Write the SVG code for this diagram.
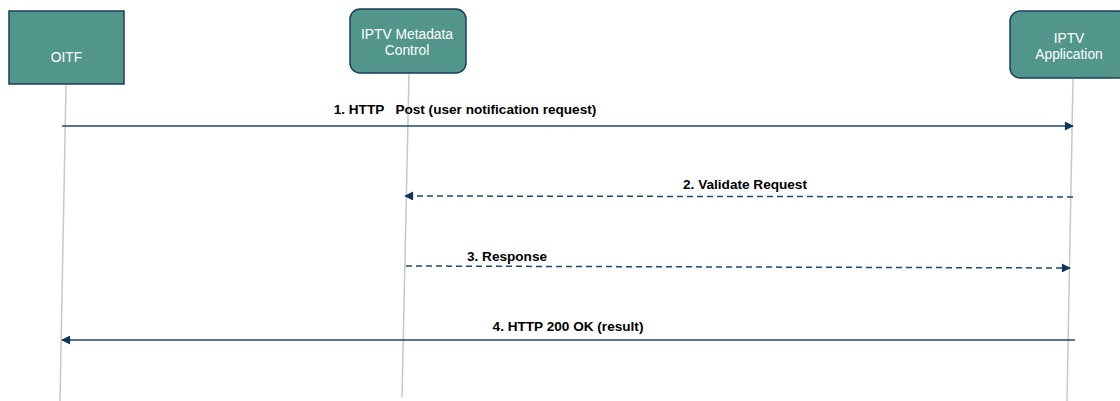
<svg xmlns="http://www.w3.org/2000/svg" width="1120" height="401" viewBox="0 0 1120 401">
<style>
.node{fill:#52958b;stroke:#1c3d5c;stroke-width:1.5}
.nt{font-family:"Liberation Sans",Arial,sans-serif;font-size:13.8px;fill:#ffffff;text-anchor:middle}
.life{stroke:#c8c8c8;stroke-width:1.5;fill:none}
.msg{stroke:#1b4870;stroke-width:1.5;fill:none}
.dash{stroke-dasharray:6,4}
.lbl{font-family:"Liberation Sans",Arial,sans-serif;font-size:13.6px;font-weight:bold;fill:#000000;text-anchor:middle;white-space:pre}
</style>
<defs>
<marker id="ah" viewBox="0 0 10 10" refX="9" refY="5" markerWidth="10" markerHeight="9" orient="auto" markerUnits="userSpaceOnUse">
<path d="M0,0 L10,5 L0,10 Z" fill="#0f3558"/>
</marker>
</defs>
<rect width="1120" height="401" fill="#ffffff"/>
<g id="lifelines">
<line class="life" x1="66" y1="85" x2="60" y2="401"/>
<line class="life" x1="409" y1="74" x2="402" y2="397"/>
<line class="life" x1="1073" y1="79" x2="1067" y2="401"/>
</g>
<g id="node-oitf">
<rect class="node" x="9" y="11" width="115" height="73"/>
<text class="nt" x="66.5" y="62">OITF</text>
</g>
<g id="node-metadata">
<rect class="node" x="350" y="9" width="116" height="64" rx="10"/>
<text class="nt" x="407" y="39">IPTV Metadata</text>
<text class="nt" x="407" y="55">Control</text>
</g>
<g id="node-application">
<rect class="node" x="1010" y="11" width="118" height="67" rx="10"/>
<text class="nt" x="1069" y="43">IPTV</text>
<text class="nt" x="1069" y="59">Application</text>
</g>
<g id="connectors">
<line class="msg" x1="62" y1="126" x2="1073" y2="126" marker-end="url(#ah)"/>
<text class="lbl" x="465" y="114" xml:space="preserve">1. HTTP   Post (user notification request)</text>
<line class="msg dash" x1="1073" y1="197" x2="405" y2="196" marker-end="url(#ah)"/>
<text class="lbl" x="745" y="189">2. Validate Request</text>
<line class="msg dash" x1="406" y1="266" x2="1070" y2="268" marker-end="url(#ah)"/>
<text class="lbl" x="507" y="261">3. Response</text>
<line class="msg" x1="1075" y1="340" x2="62" y2="340" marker-end="url(#ah)"/>
<text class="lbl" x="568" y="331">4. HTTP 200 OK (result)</text>
</g>
</svg>
